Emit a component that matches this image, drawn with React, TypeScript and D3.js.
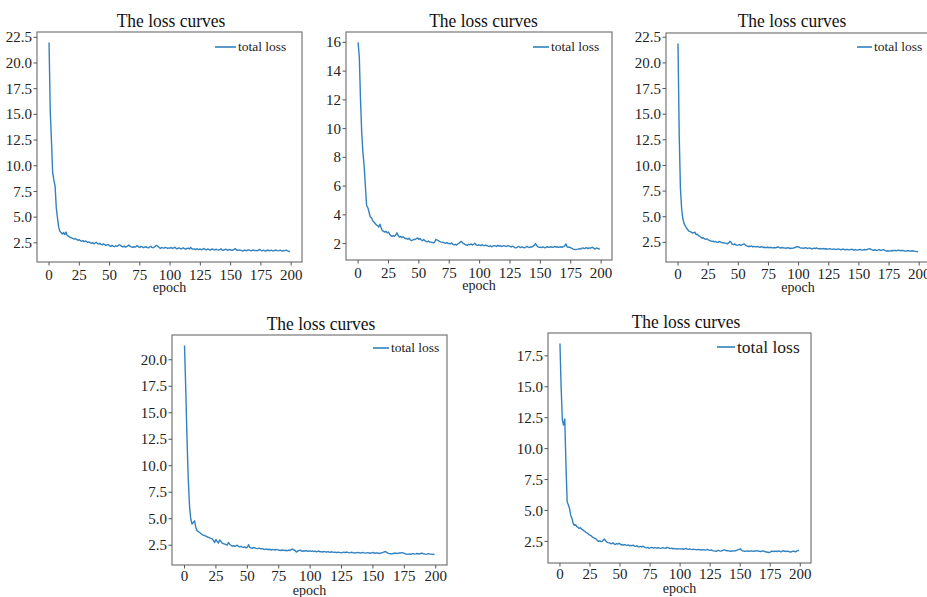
import React, { useEffect, useRef } from 'react';
import * as d3 from 'd3';

const epochs = d3.range(0, 200);
const xTicks = [0, 25, 50, 75, 100, 125, 150, 175, 200];
const titleText = 'The loss curves';
const legendText = 'total loss';
const xLabel = 'epoch';

const loss1 = [
  22.0, 15.3, 12.4, 9.3, 8.6, 8.0, 5.9, 4.9, 4.0, 3.6, 3.5, 3.35, 3.5, 3.3, 3.55, 3.2, 3.15, 3.05, 3.0, 2.95,
  2.9, 2.85, 2.9, 2.8, 2.75, 2.8, 2.7, 2.65, 2.72, 2.6, 2.68, 2.62, 2.55, 2.6, 2.5, 2.45, 2.52, 2.4, 2.48, 2.55,
  2.42, 2.38, 2.45, 2.35, 2.3, 2.4, 2.32, 2.25, 2.3, 2.35, 2.2, 2.15, 2.25, 2.18, 2.12, 2.2, 2.15, 2.22, 2.3, 2.25,
  2.15, 2.1, 2.18, 2.08, 2.12, 2.2, 2.28, 2.15, 2.1, 2.05, 2.12, 2.08, 2.15, 2.22, 2.1, 2.05, 2.15, 2.1, 2.02, 2.08,
  2.12, 2.05, 2.0, 2.1, 2.15, 2.05, 2.02, 2.1, 2.2, 2.25, 2.12, 2.05, 1.95, 2.05, 2.0, 1.98, 2.05, 2.02, 1.95, 2.0,
  1.98, 2.05, 1.95, 2.0, 2.08, 1.95, 1.92, 2.0, 1.98, 1.9, 1.95, 2.02, 1.92, 1.88, 1.95, 1.98, 1.9, 2.05, 1.92, 1.88,
  1.9, 1.85, 1.92, 1.88, 1.85, 1.9, 1.82, 1.88, 1.95, 1.85, 1.82, 1.9, 1.86, 1.8, 1.85, 1.9, 1.84, 1.8, 1.88, 1.82,
  1.78, 1.85, 1.92, 1.8, 1.76, 1.84, 1.88, 1.8, 1.78, 1.85, 1.82, 1.76, 1.8, 1.88, 1.92, 1.8, 1.75, 1.82, 1.78, 1.74,
  1.7, 1.76, 1.8, 1.72, 1.78, 1.82, 1.75, 1.72, 1.78, 1.8, 1.74, 1.76, 1.72, 1.8, 1.85, 1.76, 1.72, 1.78, 1.74, 1.7,
  1.75, 1.8, 1.72, 1.76, 1.78, 1.7, 1.74, 1.8, 1.76, 1.72, 1.74, 1.78, 1.72, 1.7, 1.76, 1.74, 1.78, 1.72, 1.68, 1.65,
];

const loss2 = [
  16.0, 15.0, 12.0, 9.7, 8.3, 7.4, 6.0, 4.65, 4.5, 4.2, 3.85, 3.8, 3.6, 3.5, 3.4, 3.3, 3.25, 3.15, 3.35, 3.1,
  2.9, 2.85, 2.8, 2.85, 2.75, 2.8, 2.65, 2.55, 2.5, 2.55, 2.5, 2.6, 2.75, 2.55, 2.45, 2.5, 2.42, 2.48, 2.4, 2.35,
  2.35, 2.3, 2.38, 2.25, 2.2, 2.25, 2.3, 2.28, 2.35, 2.4, 2.3, 2.35, 2.25, 2.2, 2.28, 2.2, 2.15, 2.12, 2.18, 2.1,
  2.1, 2.08, 2.05, 2.1, 2.3, 2.25, 2.2, 2.15, 2.12, 2.1, 2.08, 2.05, 2.02, 2.08, 2.0, 2.02, 1.98, 2.05, 1.95, 1.92,
  1.95, 1.9, 1.98, 2.02, 2.1, 2.15, 2.05, 2.0, 1.95, 1.9, 1.88, 1.95, 1.92, 1.98, 1.9, 1.95, 2.02, 1.92, 1.88, 1.9,
  1.9, 1.86, 1.92, 1.88, 1.85, 1.9, 1.86, 1.82, 1.8, 1.85, 1.78, 1.82, 1.86, 1.84, 1.8, 1.88, 1.82, 1.85, 1.8, 1.83,
  1.86, 1.82, 1.8, 1.85, 1.84, 1.8, 1.76, 1.82, 1.78, 1.72, 1.7, 1.76, 1.8, 1.75, 1.72, 1.78, 1.74, 1.7, 1.76, 1.8,
  1.75, 1.72, 1.78, 1.76, 1.82, 1.88, 2.0, 1.85, 1.78, 1.74, 1.75, 1.72, 1.78, 1.74, 1.7, 1.76, 1.78, 1.74, 1.76, 1.78,
  1.74, 1.76, 1.8, 1.75, 1.78, 1.74, 1.76, 1.78, 1.74, 1.8, 1.82, 1.98, 1.78, 1.74, 1.76, 1.7, 1.68, 1.62, 1.6, 1.58,
  1.6, 1.62, 1.65, 1.62, 1.66, 1.7, 1.66, 1.68, 1.72, 1.65, 1.7, 1.68, 1.72, 1.75, 1.66, 1.62, 1.7, 1.66, 1.64, 1.62,
];

const loss3 = [
  21.9, 13.0, 7.8, 5.8, 4.8, 4.35, 4.1, 3.9, 3.75, 3.6, 3.55, 3.5, 3.4, 3.45, 3.5, 3.25, 3.3, 3.15, 3.1, 3.0,
  2.9, 2.95, 2.85, 2.8, 2.85, 2.75, 2.7, 2.65, 2.6, 2.62, 2.55, 2.6, 2.52, 2.5, 2.58, 2.55, 2.5, 2.45, 2.48, 2.42,
  2.4, 2.35, 2.45, 2.6, 2.5, 2.3, 2.28, 2.35, 2.25, 2.22, 2.25, 2.3, 2.2, 2.25, 2.3, 2.35, 2.2, 2.15, 2.1, 2.12,
  2.1, 2.15, 2.05, 2.1, 2.08, 2.05, 2.1, 2.05, 2.02, 2.08, 2.05, 2.0, 2.02, 1.98, 2.02, 2.0, 1.98, 2.02, 1.96, 1.98,
  2.0, 1.96, 2.02, 2.05, 1.98, 1.95, 2.0, 1.98, 1.94, 1.96, 1.92, 1.98, 1.95, 1.9, 1.94, 1.92, 1.96, 2.0, 2.05, 2.08,
  2.05, 1.98, 1.94, 1.96, 1.92, 1.95, 1.98, 1.9, 1.94, 1.96, 1.92, 1.88, 1.9, 1.94, 1.9, 1.96, 1.88, 1.86, 1.9, 1.88,
  1.86, 1.9, 1.85, 1.88, 1.84, 1.86, 1.88, 1.84, 1.82, 1.86, 1.84, 1.8, 1.84, 1.86, 1.82, 1.78, 1.82, 1.85, 1.8, 1.78,
  1.82, 1.8, 1.76, 1.8, 1.84, 1.78, 1.75, 1.8, 1.76, 1.74, 1.78, 1.82, 1.76, 1.74, 1.78, 1.8, 1.76, 1.82, 1.86, 1.88,
  1.82, 1.76, 1.72, 1.78, 1.74, 1.7, 1.76, 1.8, 1.72, 1.74, 1.8, 1.76, 1.7, 1.66, 1.68, 1.64, 1.66, 1.7, 1.68, 1.72,
  1.7, 1.68, 1.72, 1.74, 1.7, 1.68, 1.72, 1.7, 1.66, 1.64, 1.68, 1.7, 1.66, 1.64, 1.68, 1.66, 1.64, 1.62, 1.6, 1.6,
];

const loss4 = [
  21.35, 17.25, 12.5, 8.75, 6.2, 4.95, 4.5, 4.65, 4.8, 4.2, 3.85, 3.8, 3.7, 3.6, 3.5, 3.45, 3.4, 3.35, 3.3, 3.25,
  3.2, 3.15, 3.1, 2.95, 2.75, 3.05, 2.85, 2.7, 3.0, 2.85, 2.7, 2.65, 2.6, 2.55, 2.5, 2.75, 2.6, 2.5, 2.42, 2.45,
  2.4, 2.45, 2.5, 2.38, 2.35, 2.4, 2.32, 2.3, 2.35, 2.25, 2.3, 2.55, 2.3, 2.25, 2.2, 2.28, 2.25, 2.2, 2.18, 2.22,
  2.2, 2.15, 2.18, 2.12, 2.1, 2.15, 2.08, 2.12, 2.1, 2.05, 2.1, 2.08, 2.05, 2.1, 2.06, 2.05, 2.02, 2.0, 2.05, 2.02,
  2.0, 2.02, 1.98, 2.05, 2.0, 2.1, 2.15, 2.05, 2.0, 1.85, 1.95, 1.98, 2.05, 1.95, 1.92, 1.98, 1.95, 2.0, 1.92, 1.96,
  1.95, 1.92, 1.96, 1.9, 1.94, 1.88, 1.92, 1.95, 1.88, 1.9, 1.86, 1.92, 1.88, 1.85, 1.9, 1.86, 1.84, 1.88, 1.85, 1.82,
  1.84, 1.8, 1.84, 1.82, 1.8, 1.78, 1.82, 1.84, 1.8, 1.86, 1.82, 1.78, 1.8, 1.84, 1.8, 1.76, 1.8, 1.78, 1.82, 1.8,
  1.76, 1.78, 1.82, 1.78, 1.75, 1.78, 1.8, 1.76, 1.74, 1.78, 1.82, 1.76, 1.74, 1.78, 1.76, 1.72, 1.76, 1.78, 1.82, 1.88,
  1.9, 1.82, 1.76, 1.72, 1.7, 1.68, 1.72, 1.74, 1.76, 1.72, 1.74, 1.78, 1.76, 1.8, 1.78, 1.72, 1.68, 1.64, 1.66, 1.68,
  1.65, 1.68, 1.7, 1.66, 1.68, 1.72, 1.7, 1.66, 1.72, 1.76, 1.7, 1.68, 1.64, 1.66, 1.7, 1.68, 1.66, 1.64, 1.66, 1.62,
];

const loss5 = [
  18.5, 14.9, 12.3, 11.9, 12.4, 8.7, 5.7, 5.45, 5.15, 4.6, 4.35, 3.95, 3.8, 3.85, 3.7, 3.65, 3.55, 3.6, 3.5, 3.45,
  3.35, 3.3, 3.2, 3.15, 3.05, 3.0, 2.95, 2.85, 2.8, 2.75, 2.7, 2.6, 2.5, 2.55, 2.48, 2.5, 2.6, 2.7, 2.55, 2.45,
  2.4, 2.38, 2.35, 2.3, 2.4, 2.3, 2.25, 2.32, 2.28, 2.35, 2.3, 2.22, 2.25, 2.2, 2.25, 2.2, 2.18, 2.22, 2.15, 2.18,
  2.15, 2.2, 2.12, 2.1, 2.15, 2.08, 2.05, 2.1, 2.05, 2.12, 2.05, 2.0, 1.98, 2.02, 1.95, 1.98, 2.02, 2.0, 1.96, 2.0,
  1.98, 1.95, 2.0, 1.96, 1.94, 1.98, 2.0, 1.96, 1.94, 2.02, 2.0, 1.95, 1.92, 1.96, 1.9, 1.94, 1.92, 1.88, 1.92, 1.9,
  1.9, 1.88, 1.92, 1.86, 1.9, 1.94, 1.88, 1.86, 1.9, 1.86, 1.84, 1.88, 1.86, 1.84, 1.82, 1.86, 1.84, 1.8, 1.84, 1.82,
  1.84, 1.8, 1.82, 1.86, 1.8, 1.78, 1.82, 1.76, 1.74, 1.72, 1.7, 1.74, 1.78, 1.74, 1.72, 1.76, 1.8, 1.82, 1.78, 1.74,
  1.75, 1.72, 1.7, 1.74, 1.72, 1.76, 1.74, 1.78, 1.82, 1.86, 1.9, 1.8, 1.74, 1.72, 1.7, 1.72, 1.74, 1.7, 1.72, 1.74,
  1.72, 1.7, 1.74, 1.72, 1.76, 1.72, 1.7, 1.68, 1.72, 1.74, 1.7, 1.66, 1.64, 1.62, 1.6, 1.64, 1.7, 1.72, 1.68, 1.72,
  1.7, 1.68, 1.74, 1.7, 1.66, 1.72, 1.76, 1.7, 1.68, 1.72, 1.7, 1.66, 1.64, 1.68, 1.72, 1.7, 1.66, 1.72, 1.76, 1.8,
];

// panel boxes and text placement (pixels)
const panels = [
  { series: loss1, left: 37, top: 32, right: 302, bottom: 262, yStep: 2.5, yFmt: '.1f', titleX: 171, titleY: 27, legX: 215, legY: 47, legLen: 21, legFont: 13.5, tickDy: 17.5 },
  { series: loss2, left: 346, top: 32, right: 612, bottom: 260, yStep: 2, yFmt: 'd', titleX: 483.5, titleY: 27, legX: 533, legY: 47, legLen: 16, legFont: 13.5, tickDy: 17.5 },
  { series: loss3, left: 666, top: 33, right: 930, bottom: 262, yStep: 2.5, yFmt: '.1f', titleX: 792, titleY: 27, legX: 857, legY: 47, legLen: 15, legFont: 13.5, tickDy: 16.5 },
  { series: loss4, left: 172, top: 335, right: 447, bottom: 565, yStep: 2.5, yFmt: '.1f', titleX: 321, titleY: 330, legX: 373, legY: 348, legLen: 16, legFont: 13.5, tickDy: 16 },
  { series: loss5, left: 548, top: 333, right: 811, bottom: 563, yStep: 2.5, yFmt: '.1f', titleX: 686, titleY: 328, legX: 717, legY: 347, legLen: 18, legFont: 17.5, tickDy: 15.5 },
];

const W = 927;
const H = 597;
const lineColor = '#3282bf';
const font = '"Liberation Serif", "DejaVu Serif", serif';

const App = () => {
  const svgRef = useRef(null);

  useEffect(() => {
    const svg = d3.select(svgRef.current);
    svg.selectAll('*').remove();
    svg.append('rect').attr('width', W).attr('height', H).attr('fill', '#fff');

    panels.forEach(p => {
      const g = svg.append('g');
      const [ymin, ymax] = d3.extent(p.series);
      const ypad = (ymax - ymin) * 0.05;
      const xpad = (epochs[epochs.length - 1] - epochs[0]) * 0.05;

      const x = d3.scaleLinear()
        .domain([epochs[0] - xpad, epochs[epochs.length - 1] + xpad])
        .range([p.left, p.right]);
      const y = d3.scaleLinear()
        .domain([ymin - ypad, ymax + ypad])
        .range([p.bottom, p.top]);

      const yTicks = d3.range(Math.ceil((ymin - ypad) / p.yStep) * p.yStep, ymax + ypad, p.yStep)
        .filter(v => v > 0.01);
      const fmt = d3.format(p.yFmt);

      const line = d3.line()
        .x((d, i) => x(epochs[i]))
        .y(d => y(d));

      g.append('path')
        .datum(p.series)
        .attr('d', line)
        .attr('fill', 'none')
        .attr('stroke', lineColor)
        .attr('stroke-width', 1.4)
        .attr('stroke-linejoin', 'round');

      g.append('rect')
        .attr('x', p.left)
        .attr('y', p.top)
        .attr('width', p.right - p.left)
        .attr('height', p.bottom - p.top)
        .attr('fill', 'none')
        .attr('stroke', '#777')
        .attr('stroke-width', 1.2);

      // y ticks
      yTicks.forEach(v => {
        g.append('line')
          .attr('x1', p.left - 3.5).attr('x2', p.left)
          .attr('y1', y(v)).attr('y2', y(v))
          .attr('stroke', '#555');
        g.append('text')
          .attr('x', p.left - 5)
          .attr('y', y(v))
          .attr('dy', '0.34em')
          .attr('text-anchor', 'end')
          .style('font-family', font)
          .style('font-size', '15px')
          .style('fill', '#222')
          .text(fmt(v));
      });

      // x ticks
      xTicks.forEach(v => {
        g.append('line')
          .attr('x1', x(v)).attr('x2', x(v))
          .attr('y1', p.bottom).attr('y2', p.bottom + 3.5)
          .attr('stroke', '#555');
        g.append('text')
          .attr('x', x(v))
          .attr('y', p.bottom + p.tickDy)
          .attr('text-anchor', 'middle')
          .style('font-family', font)
          .style('font-size', '15px')
          .style('fill', '#222')
          .text(v);
      });

      g.append('text')
        .attr('x', (p.left + p.right) / 2)
        .attr('y', p.bottom + 29.5)
        .attr('text-anchor', 'middle')
        .style('font-family', font)
        .style('font-size', '14px')
        .style('fill', '#222')
        .text(xLabel);

      g.append('text')
        .attr('transform', `translate(${p.titleX},${p.titleY}) scale(0.92,1)`)
        .attr('text-anchor', 'middle')
        .style('font-family', font)
        .style('font-size', '19px')
        .style('fill', '#111')
        .text(titleText);

      g.append('line')
        .attr('x1', p.legX).attr('x2', p.legX + p.legLen)
        .attr('y1', p.legY).attr('y2', p.legY)
        .attr('stroke', lineColor)
        .attr('stroke-width', 1.6);
      g.append('text')
        .attr('x', p.legX + p.legLen + 2)
        .attr('y', p.legY)
        .attr('dy', '0.32em')
        .style('font-family', font)
        .style('font-size', `${p.legFont}px`)
        .style('fill', '#222')
        .text(legendText);
    });
  }, []);

  return (
    <svg
      ref={svgRef}
      width={W}
      height={H}
      style={{ position: 'absolute', left: 0, top: 0, display: 'block' }}
    ></svg>
  );
};

export default App;
